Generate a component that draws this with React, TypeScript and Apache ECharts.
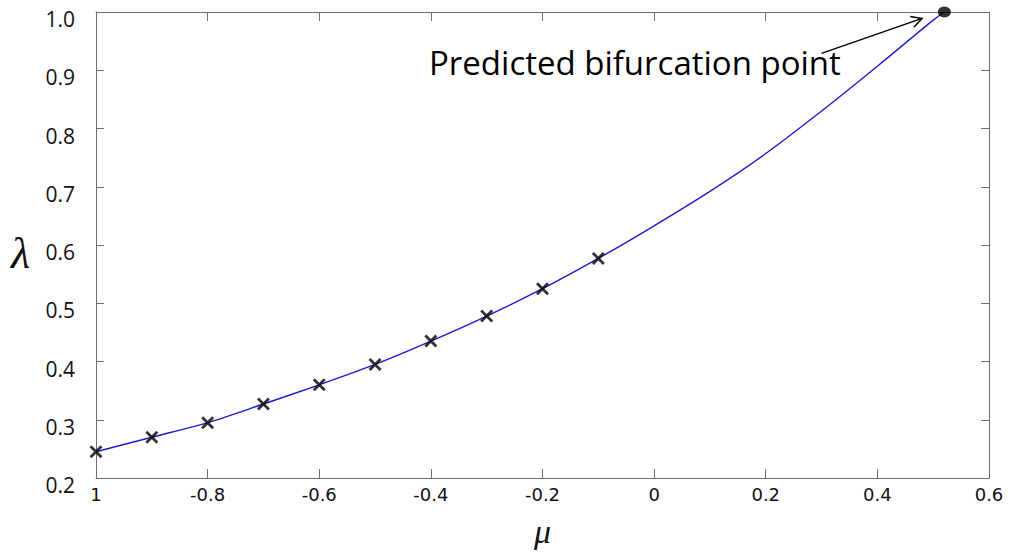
import React, { useEffect, useRef } from "react";
import * as echarts from "echarts";

// Sampled points marked with crosses (μ, λ)
const markerMu = [-1.0, -0.9, -0.8, -0.7, -0.6, -0.5, -0.4, -0.3, -0.2, -0.1];
const markerLambda = [0.245, 0.27, 0.295, 0.327, 0.36, 0.395, 0.435, 0.478, 0.525, 0.577];

// Continuation curve (μ, λ) up to the bifurcation point
const curveMu = [-1.0, -0.9, -0.8, -0.7, -0.6, -0.5, -0.4, -0.3, -0.2, -0.1, 0.0, 0.1, 0.2, 0.3, 0.4, 0.5, 0.52];
const curveLambda = [0.245, 0.27, 0.295, 0.327, 0.36, 0.395, 0.435, 0.478, 0.525, 0.577, 0.633, 0.692, 0.757, 0.83, 0.907, 0.986, 1.0];

// Predicted bifurcation point
const bifurcation = [0.52, 1.0];
const annotationText = "Predicted bifurcation point";
// Arrow from the label to the point: [μ0, λ0, μ1, λ1]
const arrow = [0.3, 0.929, 0.48, 0.989];

// Axis tick labels
const xTickLabels = ["1", "-0.8", "-0.6", "-0.4", "-0.2", "0", "0.2", "0.4", "0.6"];
const yTickLabels = ["0.2", "0.3", "0.4", "0.5", "0.6", "0.7", "0.8", "0.9", "1.0"];

const X_MIN = -1;
const X_MAX = 0.6;
const X_STEP = 0.2;
const Y_MIN = 0.2;
const Y_MAX = 1.0;
const Y_STEP = 0.1;

const axisGray = "#6e6e6e";

export default function App() {
  const ref = useRef<HTMLDivElement>(null);

  useEffect(() => {
    if (!ref.current) return;
    const chart = echarts.init(ref.current, undefined, { renderer: "svg" });

    const xLabel = (v: number) => {
      const i = Math.round((v - X_MIN) / X_STEP);
      return xTickLabels[i] ?? "";
    };
    const yLabel = (v: number) => {
      const i = Math.round((v - Y_MIN) / Y_STEP);
      return yTickLabels[i] ?? "";
    };

    const baseX = {
      type: "value" as const,
      min: X_MIN,
      max: X_MAX,
      interval: X_STEP,
      splitLine: { show: false },
      axisLine: { show: true, onZero: false, lineStyle: { color: axisGray, width: 1 } },
      axisTick: { show: true, inside: true, length: 9, lineStyle: { color: axisGray } },
    };
    const baseY = {
      type: "value" as const,
      min: Y_MIN,
      max: Y_MAX,
      interval: Y_STEP,
      splitLine: { show: false },
      axisLine: { show: true, onZero: false, lineStyle: { color: axisGray, width: 1 } },
      axisTick: { show: true, inside: true, length: 8, lineStyle: { color: axisGray } },
    };

    chart.setOption({
      animation: false,
      backgroundColor: "#ffffff",
      grid: { left: 96, right: 21, top: 12, bottom: 77, containLabel: false },
      xAxis: [
        {
          ...baseX,
          position: "bottom",
          name: "μ",
          nameLocation: "middle",
          nameGap: 36,
          nameTextStyle: {
            fontFamily: "Liberation Serif",
            fontStyle: "italic",
            fontSize: 34,
            color: "#111",
          },
          axisLabel: {
            formatter: xLabel,
            margin: 7,
            fontFamily: "DejaVu Sans",
            fontSize: 18,
            color: "#111",
          },
        },
        {
          ...baseX,
          position: "top",
          axisLabel: { show: false },
        },
      ],
      yAxis: [
        {
          ...baseY,
          position: "left",
          name: "λ",
          nameLocation: "middle",
          nameRotate: 0,
          nameGap: 66,
          nameTextStyle: {
            fontFamily: "Liberation Serif",
            fontStyle: "italic",
            fontSize: 44,
            color: "#111",
            align: "right",
            verticalAlign: "top",
            lineHeight: 16,
          },
          axisLabel: {
            formatter: yLabel,
            margin: 21,
            fontFamily: "Open Sans",
            fontSize: 21,
            color: "#111",
            verticalAlign: "top",
            lineHeight: 14,
          },
        },
        {
          ...baseY,
          position: "right",
          axisLabel: { show: false },
        },
      ],
      series: [
        {
          type: "line",
          xAxisIndex: 0,
          yAxisIndex: 0,
          data: curveMu.map((m, i) => [m, curveLambda[i]]),
          smooth: 0.3,
          showSymbol: false,
          symbol: "none",
          lineStyle: { color: "#1c1ccc", width: 1.4 },
          z: 2,
        },
        {
          type: "scatter",
          xAxisIndex: 0,
          yAxisIndex: 0,
          data: markerMu.map((m, i) => [m, markerLambda[i]]),
          symbol: "path://M0,0 L10,10 M10,0 L0,10",
          symbolSize: 11,
          itemStyle: { color: "none", borderColor: "#000", borderWidth: 2.8 },
          clip: false,
          z: 3,
        },
        {
          type: "scatter",
          xAxisIndex: 0,
          yAxisIndex: 0,
          data: [bifurcation],
          symbol: "circle",
          symbolSize: [13, 11],
          itemStyle: { color: "#000" },
          clip: false,
          z: 4,
        },
        {
          type: "custom",
          xAxisIndex: 0,
          yAxisIndex: 0,
          clip: false,
          encode: { x: [0, 2], y: [1, 3] },
          data: [arrow],
          renderItem: (_params: any, api: any) => {
            const p0 = api.coord([api.value(0), api.value(1)]);
            const p1 = api.coord([api.value(2), api.value(3)]);
            const ang = Math.atan2(p1[1] - p0[1], p1[0] - p0[0]);
            const headLen = 12;
            const spread = (28 * Math.PI) / 180;
            const a = [
              p1[0] - headLen * Math.cos(ang - spread),
              p1[1] - headLen * Math.sin(ang - spread),
            ];
            const b = [
              p1[0] - headLen * Math.cos(ang + spread),
              p1[1] - headLen * Math.sin(ang + spread),
            ];
            const stroke = { stroke: "#000", lineWidth: 1.5, fill: "none" };
            return {
              type: "group",
              children: [
                {
                  type: "line",
                  shape: { x1: p0[0], y1: p0[1], x2: p1[0], y2: p1[1] },
                  style: stroke,
                },
                {
                  type: "polyline",
                  shape: { points: [a, p1, b] },
                  style: stroke,
                },
              ],
            };
          },
          z: 5,
        },
      ],
      graphic: [
        {
          type: "text",
          left: 429,
          top: 46,
          style: {
            text: annotationText,
            fontFamily: "Open Sans",
            fontSize: 33,
            fill: "#000",
          },
        },
      ],
    });

    return () => chart.dispose();
  }, []);

  return (
    <div
      ref={ref}
      style={{ position: "absolute", left: 0, top: 0, width: 1010, height: 555 }}
    />
  );
}
